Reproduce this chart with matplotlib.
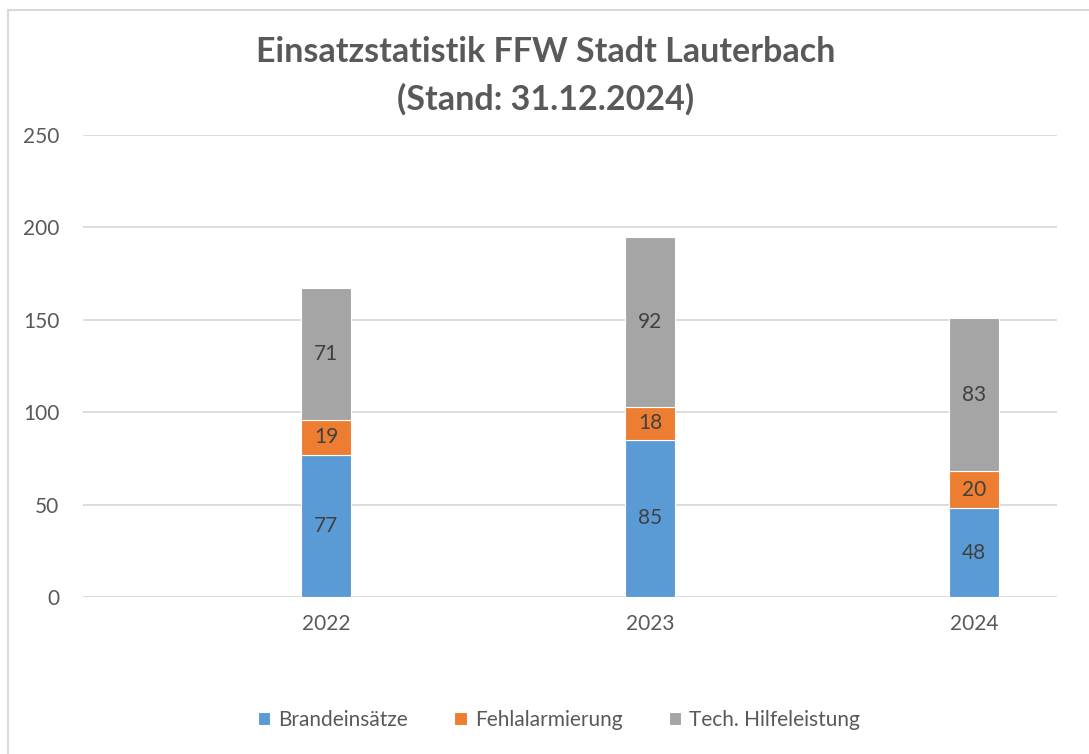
import matplotlib
matplotlib.use('Agg')
import matplotlib.pyplot as plt
from matplotlib.patches import Rectangle

years = ['2022', '2023', '2024']
series_names = ['Brandeinsätze', 'Fehlalarmierung', 'Tech. Hilfeleistung']
brand = [77, 85, 48]
fehl = [19, 18, 20]
tech = [71, 92, 83]
colors = ['#5b9bd5', '#ed7d31', '#a5a5a5']
yticks = [0, 50, 100, 150, 200, 250]

plt.rcParams['font.family'] = ['Lato', 'DejaVu Sans']
text_color = '#595959'

W, H = 1089, 754
fig = plt.figure(figsize=(W / 100, H / 100), dpi=100)
fig.patches.append(Rectangle((8 / W, -0.1), 1.2, (H - 10) / H + 0.1,
                             transform=fig.transFigure, fill=False,
                             edgecolor='#d9d9d9', linewidth=1.5))

ax = fig.add_axes([83 / W, 1 - 597 / H, (1057 - 83) / W, (597 - 135) / H])
x = list(range(len(years)))
width = 0.157
bottoms = [0] * len(years)
for name, vals, c in zip(series_names, [brand, fehl, tech], colors):
  bars = ax.bar(x, vals, width, bottom=bottoms, color=c, label=name,
                edgecolor='white', linewidth=0.8, zorder=3)
  ax.bar_label(bars, labels=[str(v) for v in vals], label_type='center',
               fontsize=15, color='#404040')
  bottoms = [b + v for b, v in zip(bottoms, vals)]

ax.set_xlim(-0.75, 2.256)
ax.set_ylim(0, 250)
ax.set_yticks(yticks)
ax.set_xticks(x)
ax.set_xticklabels(years)
ax.grid(axis='y', color='#d9d9d9', linewidth=1.3, zorder=0)
ax.tick_params(length=0, labelsize=15, labelcolor=text_color)
ax.tick_params(axis='y', pad=17)
ax.tick_params(axis='x', pad=12)
for s in ax.spines.values():
  s.set_visible(False)
ax.axhline(0, color='#d9d9d9', linewidth=1.3, zorder=1)

fig.text(546 / W, 1 - 52 / H, 'Einsatzstatistik FFW Stadt Lauterbach', ha='center', va='center',
         fontsize=24.5, fontweight='bold', color=text_color)
fig.text(546 / W, 1 - 99 / H, '(Stand: 31.12.2024)', ha='center', va='center',
         fontsize=24.5, fontweight='bold', color=text_color)

fig.legend(loc='center', bbox_to_anchor=(559 / W, 1 - 720 / H), ncol=3, frameon=False,
           fontsize=15, labelcolor=text_color, handlelength=0.6, handleheight=0.6,
           handletextpad=0.4, columnspacing=2.2)

fig.savefig('out.png', dpi=100)
